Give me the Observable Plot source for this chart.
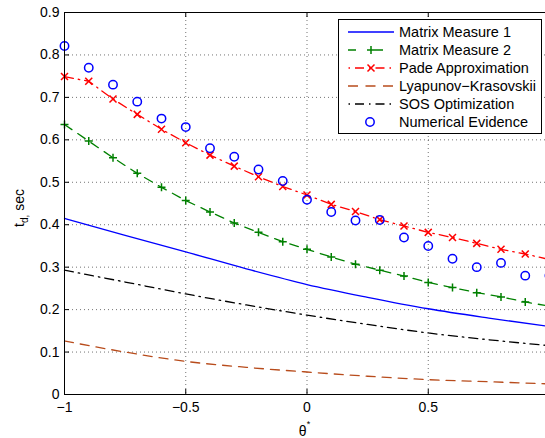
<!DOCTYPE html>
<html><head><meta charset="utf-8">
<script src="https://cdn.jsdelivr.net/npm/d3@7"></script>
<script src="https://cdn.jsdelivr.net/npm/@observablehq/plot@0.6"></script>
<style>
body{margin:0;background:#fff;}
#chart{position:relative;width:545px;height:438px;overflow:hidden;}
</style>
</head><body><div id="chart"></div>
<script>
// ---- data ----
const thetaMarkers = [-1,-0.9,-0.8,-0.7,-0.6,-0.5,-0.4,-0.3,-0.2,-0.1,0,0.1,0.2,0.3,0.4,0.5,0.6,0.7,0.8,0.9,1];
const padeValues = [0.749,0.738,0.696,0.660,0.625,0.593,0.564,0.538,0.513,0.490,0.470,0.448,0.431,0.412,0.397,0.382,0.370,0.356,0.342,0.331,0.318];
const mm2Values = [0.636,0.597,0.558,0.521,0.488,0.457,0.430,0.404,0.382,0.360,0.342,0.324,0.307,0.293,0.279,0.264,0.252,0.240,0.230,0.218,0.208];
const numericalValues = [0.821,0.770,0.730,0.690,0.650,0.630,0.580,0.560,0.530,0.503,0.459,0.430,0.410,0.411,0.370,0.350,0.320,0.300,0.310,0.280,0.280];
const thetaSmooth = [-1,-0.75,-0.5,-0.25,0,0.25,0.5,0.75,1];
const mm1Values = [0.415,0.375,0.336,0.296,0.259,0.229,0.202,0.180,0.160];
const sosValues = [0.293,0.265,0.237,0.211,0.187,0.165,0.145,0.129,0.115];
const lkValues = [0.126,0.100,0.078,0.064,0.053,0.043,0.035,0.030,0.025];
const xTicks = [-1,-0.5,0,0.5,1];
const xTickLabels = ["\u22121","\u22120.5","0","0.5",""];
const yTicks = [0,0.1,0.2,0.3,0.4,0.5,0.6,0.7,0.8,0.9];
const yTickLabels = ["0","0.1","0.2","0.3","0.4","0.5","0.6","0.7","0.8","0.9"];
const seriesNames = ["Matrix Measure 1","Matrix Measure 2","Pade Approximation","Lyapunov\u2212Krasovskii","SOS Optimization","Numerical Evidence"];

// ---- layout / style ----
const W = 545, H = 438, mL = 64, mR = -4, mT = 12, mB = 44;
const plotH = H - mT - mB, plotW = W - mL - mR;
const FONT = "'Liberation Sans', Arial, Helvetica, sans-serif";
const C = {mm1:"#0000ff", mm2:"#008000", pade:"#ff0000", lk:"#b84c1c", sos:"#000000", num:"#0000ff"};
const DASH = "9,7", DASHDOT = "9,5,1.5,5";

const plusSym = {draw(ctx, size){const h = Math.sqrt(size/Math.PI); ctx.moveTo(-h,0); ctx.lineTo(h,0); ctx.moveTo(0,-h); ctx.lineTo(0,h);}};
const timesSym = {draw(ctx, size){const h = Math.sqrt(size/Math.PI); ctx.moveTo(-h,-h); ctx.lineTo(h,h); ctx.moveTo(-h,h); ctx.lineTo(h,-h);}};

const markerRows = thetaMarkers.map((t,i)=>({t, pade:padeValues[i], mm2:mm2Values[i], num:numericalValues[i]}));
const smoothRows = thetaSmooth.map((t,i)=>({t, mm1:mm1Values[i], sos:sosValues[i], lk:lkValues[i]}));
const xt = xTicks.map((v,i)=>({v, l:xTickLabels[i]})).filter(d => d.l !== "");
const yt = yTicks.map((v,i)=>({v, l:yTickLabels[i]}));

const grid = {stroke:"#000", strokeOpacity:0.55, strokeDasharray:"1,3", strokeWidth:1};

const chart = Plot.plot({
  width: W, height: H,
  marginLeft: mL, marginRight: mR, marginTop: mT, marginBottom: mB,
  style: {fontFamily: FONT, fontSize: "14px", background: "#fff", color: "#000", overflow: "hidden"},
  x: {domain: [-1, 1], axis: null},
  y: {domain: [0, 0.9], axis: null},
  marks: [
    Plot.ruleX(xTicks.filter(d => d > -1 && d < 1), grid),
    Plot.ruleY(yTicks.filter(d => d > 0 && d < 0.9), grid),
    Plot.line(smoothRows, {x:"t", y:"lk", stroke:C.lk, strokeWidth:1.3, strokeDasharray:DASH, curve:"monotone-x"}),
    Plot.line(smoothRows, {x:"t", y:"sos", stroke:C.sos, strokeWidth:1.3, strokeDasharray:DASHDOT, curve:"monotone-x"}),
    Plot.line(smoothRows, {x:"t", y:"mm1", stroke:C.mm1, strokeWidth:1.3, curve:"monotone-x"}),
    Plot.line(markerRows, {x:"t", y:"mm2", stroke:C.mm2, strokeWidth:1.3, strokeDasharray:DASH}),
    Plot.dot(markerRows, {x:"t", y:"mm2", symbol:plusSym, r:4, stroke:C.mm2, strokeWidth:1.5, fill:"none"}),
    Plot.line(markerRows, {x:"t", y:"pade", stroke:C.pade, strokeWidth:1.3, strokeDasharray:DASHDOT}),
    Plot.dot(markerRows, {x:"t", y:"pade", symbol:timesSym, r:3.5, stroke:C.pade, strokeWidth:1.5, fill:"none"}),
    Plot.dot(markerRows, {x:"t", y:"num", r:4.2, stroke:C.num, strokeWidth:1.5, fill:"none"}),
    Plot.frame({stroke:"#000", strokeWidth:1}),
    Plot.ruleX(xTicks, {stroke:"#000", insetTop: plotH - 5}),
    Plot.ruleX(xTicks, {stroke:"#000", insetBottom: plotH - 5}),
    Plot.ruleY(yTicks, {stroke:"#000", insetRight: plotW - 5}),
    Plot.axisX(xt, {x:"v", text:"l", tickSize:0, tickPadding:8, label:null, fontSize:14}),
    Plot.axisY(yt, {y:"v", text:"l", tickSize:0, tickPadding:5, label:null, fontSize:14})
  ]
});
document.getElementById("chart").appendChild(chart);

// ---- axis titles and legend ----
const svg = d3.select(chart);
const xl = svg.append("text").attr("x", mL + (W - mR - mL)/2 - 2).attr("y", 436)
  .attr("text-anchor","middle").attr("font-size",14).attr("font-family",FONT).attr("fill","#000");
xl.append("tspan").text("\u03b8");
xl.append("tspan").attr("dy",-9).attr("font-size",9).text("*");

const yl = svg.append("text").attr("transform","translate(24,208) rotate(-90)")
  .attr("text-anchor","middle").attr("font-size",14).attr("font-family",FONT).attr("fill","#000");
yl.append("tspan").text("t");
yl.append("tspan").attr("dy",4).attr("font-size",10).text("d,");
yl.append("tspan").attr("dy",-4).text(" sec");

const lg = svg.append("g").attr("text-anchor","start");
lg.append("rect").attr("x",338.5).attr("y",19.5).attr("width",203).attr("height",114)
  .attr("fill","#fff").attr("stroke","#000").attr("stroke-width",1);
const styles = [
  {stroke:C.mm1, dash:null, marker:null},
  {stroke:C.mm2, dash:"8,19", off:0, marker:"plus"},
  {stroke:C.pade, dash:DASHDOT, off:13.5, marker:"times"},
  {stroke:C.lk, dash:"10,7.5", off:0, marker:null},
  {stroke:C.sos, dash:DASHDOT, off:13.5, marker:null},
  {stroke:null, dash:null, marker:"circle"}
];
seriesNames.forEach((name,i)=>{
  const y = 32 + 18*i, s = styles[i];
  if (s.stroke) {
    const ln = lg.append("line").attr("x1",348).attr("x2",394).attr("y1",y).attr("y2",y)
      .attr("stroke",s.stroke).attr("stroke-width",1.3);
    if (s.dash) ln.attr("stroke-dasharray",s.dash).attr("stroke-dashoffset",s.off);
  }
  if (s.marker === "plus") lg.append("path").attr("d",`M367,${y}h8M371,${y-4}v8`).attr("stroke",C.mm2).attr("stroke-width",1.5);
  if (s.marker === "times") lg.append("path").attr("d",`M367.5,${y-3.5}l7,7M367.5,${y+3.5}l7,-7`).attr("stroke",C.pade).attr("stroke-width",1.5);
  if (s.marker === "circle") lg.append("circle").attr("cx",370).attr("cy",y).attr("r",4.2).attr("fill","none").attr("stroke",C.num).attr("stroke-width",1.5);
  lg.append("text").attr("x",399).attr("y",y).attr("dy","0.36em").attr("font-size",14.5)
    .attr("text-anchor","start").attr("font-family",FONT).attr("fill","#000").text(name);
});
</script>
</body></html>
